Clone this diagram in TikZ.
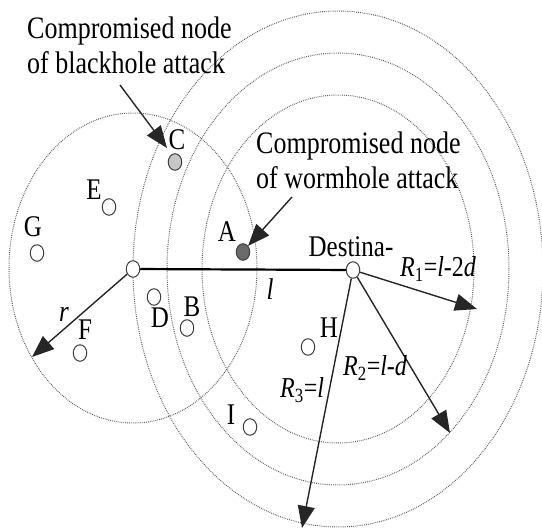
\documentclass[tikz,border=0pt]{standalone}
\usepackage{fontspec}
\setmainfont{Liberation Serif}
\usepackage{graphicx}
\usetikzlibrary{shapes.geometric,arrows.meta}
\newcommand{\vt}[1]{\scalebox{1}[1.2]{#1}}
\begin{document}
\begin{tikzpicture}[x=1pt,y=-1pt,
  dotc/.style={draw=black!65, line width=1pt, dash pattern=on 0.8pt off 1.1pt},
  nd/.style={ellipse, draw=black!75, line width=1pt, fill=white, minimum width=13.5pt, minimum height=16.5pt, inner sep=0pt},
  arr/.style={draw=black!85, line width=1.4pt, -{Triangle[length=22pt,width=17pt]}},
  mainln/.style={draw=black, line width=2.2pt},
  lab/.style={inner sep=0pt, anchor=base, font=\fontsize{25}{30}\selectfont},
  mlab/.style={inner sep=0pt, anchor=base west, font=\fontsize{24}{29}\selectfont},
  blk/.style={inner sep=0pt, anchor=west, font=\fontsize{26}{29}\selectfont}]
\useasboundingbox (0,0) rectangle (542,532);
% dotted range circles
\draw[dotc] (133,268) ellipse [x radius=124pt, y radius=155pt];
\draw[dotc] (338,269) ellipse [x radius=136pt, y radius=174pt];
\draw[dotc] (338,269) ellipse [x radius=171pt, y radius=216pt];
\draw[dotc] (338,269) ellipse [x radius=205pt, y radius=258pt];
% nodes
\node[nd] (S) at (133,269) {};
\node[nd] (T) at (353,270) {};
\node[nd, fill=black!22] (C) at (175,162) {};
\node[nd, fill=black!58] (A) at (243,252) {};
\node[nd] (E) at (109,207) {};
\node[nd] (G) at (37,253) {};
\node[nd] (D) at (154,297) {};
\node[nd] (B) at (187,328) {};
\node[nd] (F) at (80,353) {};
\node[nd] (I) at (250,427) {};
\node[nd] (H) at (308,347) {};
% main line
\draw[mainln] (S) -- (T);
% arrow end points
\coordinate (rtip) at (32,357);
\coordinate (r1tip) at (477,309);
\coordinate (r2tip) at (450,433);
\coordinate (r3tip) at (302,528);
\coordinate (bh0) at (120,85);
\coordinate (bhtip) at (167,148);
\coordinate (wh0) at (292,197);
\coordinate (whtip) at (248,246);
\draw[arr] (S) -- (rtip);
\draw[arr] (T) -- (r1tip);
\draw[arr] (T) -- (r2tip);
\draw[arr] (T) -- (r3tip);
\draw[arr] (bh0) -- (bhtip);
\draw[arr] (wh0) -- (whtip);
% texts
\node[blk] (tbh) at (27,49) {\vt{\begin{tabular}{@{}l@{}}Compromised node\\of blackhole attack\end{tabular}}};
\node[blk] (twh) at (256,164) {\vt{\begin{tabular}{@{}l@{}}Compromised node\\of wormhole attack\end{tabular}}};
\node[lab] (tdest) at (351,257) {\vt{Destina-}};
\node[lab] (lC) at (177,150) {\vt{C}};
\node[lab] (lE) at (94,200) {\vt{E}};
\node[lab] (lG) at (33,237) {\vt{G}};
\node[lab] (lA) at (227,242) {\vt{A}};
\node[lab] (lD) at (160,328) {\vt{D}};
\node[lab] (lB) at (192,317) {\vt{B}};
\node[lab] (lF) at (85,340) {\vt{F}};
\node[lab] (lI) at (231,425) {\vt{I}};
\node[lab] (lH) at (329,338) {\vt{H}};
\node[lab] (lr) at (64,322) {\vt{\textit{r}}};
\node[lab] (ll) at (270,300) {\vt{\textit{l}}};
\node[mlab] (lR1) at (400,277) {\vt{\textit{R}\textsubscript{1}=\textit{l}-2\textit{d}}};
\node[mlab] (lR2) at (343,376) {\vt{\textit{R}\textsubscript{2}=\textit{l}-\textit{d}}};
\node[mlab] (lR3) at (280,398) {\vt{\textit{R}\textsubscript{3}=\textit{l}}};
\end{tikzpicture}
\end{document}
